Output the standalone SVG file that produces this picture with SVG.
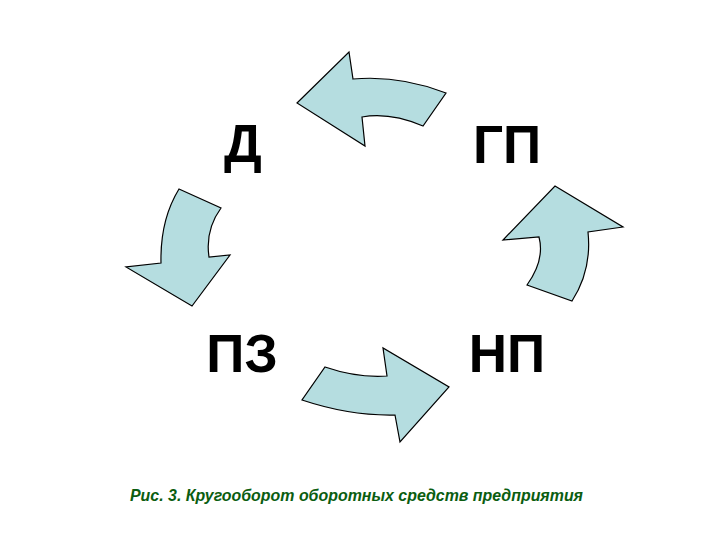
<svg xmlns="http://www.w3.org/2000/svg" width="720" height="540" viewBox="0 0 720 540">
<style>
.arrow{fill:#b5dde0;stroke:#000;stroke-width:1.2;stroke-linejoin:miter}
.lbl{font-family:"Liberation Sans",Arial,sans-serif;font-weight:bold;font-size:53px;fill:#000}
.cap{font-family:"Liberation Sans",Arial,sans-serif;font-weight:bold;font-style:italic;font-size:16.5px;fill:#0b5d10}
</style>
<rect width="720" height="540" fill="#fff"/>
<g id="connectors">
<path class="arrow" d="M297,103 L349,52 L353,79 Q400,75 446,93 L423,126 Q390,112 362,117 L365,146 Z"/>
<path class="arrow" d="M179,189 L221,208 Q205,230 209,257 L230,255 L192,306 L126,267 L161,263 Q160,220 179,189 Z"/>
<path class="arrow" d="M325,367 Q357,378 387,376 L383,348 L449,387 L400,442 L395,415 Q350,416 302,400 Z"/>
<path class="arrow" d="M555,186 L623,227 L588,232 Q592,270 572,301 L527,285 Q545,260 539,237 L503,240 Z"/>
</g>
<g id="node-D"><text class="lbl" x="243" y="162" text-anchor="middle">Д</text></g>
<g id="node-GP"><text class="lbl" x="507" y="163" text-anchor="middle">ГП</text></g>
<g id="node-PZ"><text class="lbl" x="242" y="372" text-anchor="middle">ПЗ</text></g>
<g id="node-NP"><text class="lbl" x="507" y="372" text-anchor="middle">НП</text></g>
<g id="caption"><text class="cap" x="130" y="501" textLength="453" lengthAdjust="spacingAndGlyphs">Рис. 3. Кругооборот оборотных средств предприятия</text></g>
</svg>
